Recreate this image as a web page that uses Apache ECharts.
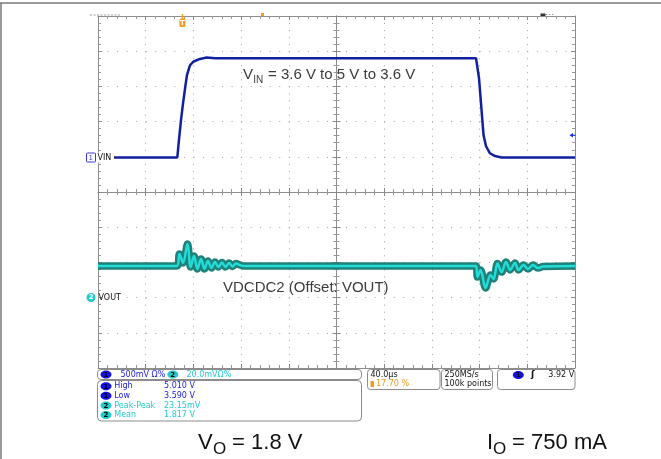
<!DOCTYPE html>
<html>
<head>
<meta charset="utf-8">
<script src="https://cdn.jsdelivr.net/npm/echarts@6/dist/echarts.min.js"></script>
<style>
  html, body { margin: 0; padding: 0; background: #fff; }
  #main { width: 661px; height: 459px; }
</style>
</head>
<body>
<div id="main"></div>
<script>
  // time axis in µs (40 µs/div, 10 div)
  var vinTime = [0, 66.5, 67.9, 69.6, 71.3, 73.4, 74.6, 77.1, 79.9, 85.5, 91.2, 98.1,
                 317.0, 319.5, 322.3, 323.3, 325.4, 328.7, 332.9, 338.5, 400];
  var vinVolt = [3.59, 3.59, 3.84, 4.12, 4.36, 4.62, 4.76, 4.90, 4.95, 4.99, 5.01, 5.00,
                 5.00, 4.72, 4.12, 3.91, 3.75, 3.65, 3.61, 3.59, 3.59];

  var voutTime = [0, 66.2, 68.3, 71.3, 75.1, 77.6, 80.5, 83.4, 86.4, 89.3, 92.2, 95.2, 98.1,
                  101.0, 104.0, 106.9, 109.9, 112.8, 115.7, 119.1, 122,
                  317.0, 318.2, 320.8, 325.0, 329.2, 331.7, 335.0, 338.4, 342.2, 345.5,
                  349.7, 352.6, 356.8, 360.6, 364.8, 369.0, 373.2, 400];
  var voutVolt = [1.818, 1.818, 1.8248, 1.8197, 1.8305, 1.8174, 1.8236, 1.8163, 1.8219, 1.8163,
                  1.8208, 1.8168, 1.8202, 1.8174, 1.8199, 1.8174, 1.8197, 1.8177, 1.8194, 1.8185, 1.818,
                  1.818, 1.8117, 1.8157, 1.8055, 1.8128, 1.8106, 1.8194, 1.8145, 1.8202, 1.8157,
                  1.8197, 1.8157, 1.8185, 1.8163, 1.8185, 1.8168, 1.8177, 1.818];

  var measName = ['High', 'Low', 'Peak-Peak', 'Mean'];
  var measValue = ['5.010 V', '3.590 V', '23.15mV', '1.817 V'];
  var measCh = [1, 1, 2, 2];
  var chScale = ['500mV \u03a9%', '20.0mV\u03a9%'];
  var timeScale = '40.0\u00b5s';
  var trigPos = 17.70;   // %
  var sampleInfo = ['250MS/s', '100k points'];
  var trigLevel = '3.92 V';

  var L = 98, T = 16, W = 477, H = 352;
  var frameColor = '#8c8c8c';
  var ch1Color = '#1a1ae0', ch2Color = '#22cccc', orange = '#f39c1e';
  var small = '8px "DejaVu Sans"';

  function pairs(a, b) {
    return a.map(function (v, i) { return [v, b[i]]; });
  }

  var tick = { show: true, inside: true, length: 4, lineStyle: { color: '#888' } };
  var minor = { show: true, splitNumber: 5, length: 3, lineStyle: { color: '#999' } };
  var line = { show: true, onZero: false, lineStyle: { color: frameColor, width: 1 } };

  function frameX(grid, pos, split) {
    return {
      gridIndex: grid, type: 'value', min: 0, max: 400, interval: 40, position: pos,
      axisLine: line, axisTick: tick, minorTick: minor, axisLabel: { show: false },
      splitLine: split ? { show: true, lineStyle: { color: '#a0a0a0', width: 1, type: [1, 6.04] } } : { show: false }
    };
  }
  function frameY(grid, pos, split) {
    return {
      gridIndex: grid, type: 'value', min: 0, max: 10, interval: 1, position: pos,
      axisLine: line, axisTick: tick, minorTick: minor, axisLabel: { show: false },
      splitLine: split ? { show: true, lineStyle: { color: '#a0a0a0', width: 1, type: [1, 8.54] } } : { show: false }
    };
  }

  var g = [];
  function txt(x, y, s, font, color, extra) {
    var o = { type: 'text', x: x, y: y, z: 100,
      style: { text: s, font: font, fill: color, align: 'left', verticalAlign: 'middle',
               textAlign: 'left', textVerticalAlign: 'middle' } };
    if (extra) for (var k in extra) o[k] = extra[k];
    return o;
  }
  function rect(x, y, w, h, r, fill, stroke) {
    return { type: 'rect', z: 99, shape: { x: x, y: y, width: w, height: h, r: r },
             style: { fill: fill, stroke: stroke, lineWidth: 1 } };
  }
  function badge(cx, cy, n) {
    g.push({ type: 'ellipse', z: 100, shape: { cx: cx, cy: cy, rx: 5.5, ry: 4 },
             style: { fill: n === 1 ? '#1212e8' : ch2Color } });
    g.push({ type: 'text', x: cx, y: cy + 0.5, z: 101,
             style: { text: String(n), font: 'bold 7px "DejaVu Sans"', fill: '#000',
                      align: 'center', verticalAlign: 'middle', textAlign: 'center', textVerticalAlign: 'middle' } });
  }

  // outer page frame
  g.push({ type: 'line', z: 100, shape: { x1: 0, y1: 3, x2: 661, y2: 3 }, style: { stroke: '#7a7a7a', lineWidth: 1.5 } });
  g.push({ type: 'line', z: 100, shape: { x1: 1, y1: 3, x2: 1, y2: 459 }, style: { stroke: '#7a7a7a', lineWidth: 1.5 } });

  // small record-view marks on top edge
  g.push({ type: 'line', z: 100, shape: { x1: 90, y1: 15, x2: 120, y2: 15 }, style: { stroke: '#9a9a9a', lineWidth: 1, lineDash: [2, 1.5] } });
  g.push(rect(261, 13, 3, 3, 0, orange, null));
  g.push(rect(540.5, 13.5, 5, 2.5, 0, '#333', null));
  g.push({ type: 'line', z: 100, shape: { x1: 546, y1: 14.5, x2: 554, y2: 14.5 }, style: { stroke: '#999', lineWidth: 1, lineDash: [1.5, 1.5] } });

  // trigger position marker
  var trigX = L + trigPos / 100 * W;
  g.push({ type: 'line', z: 100, shape: { x1: trigX, y1: 14, x2: trigX, y2: 19 }, style: { stroke: orange, lineWidth: 1.5 } });
  g.push(rect(trigX - 3, 18.5, 6, 8.5, 1.5, orange, null));
  g.push({ type: 'text', x: trigX, y: 23, z: 101,
           style: { text: 'T', font: 'bold 7px "DejaVu Sans"', fill: '#fff', align: 'center', verticalAlign: 'middle',
                    textAlign: 'center', textVerticalAlign: 'middle' } });

  // trigger level arrow on right edge
  g.push({ type: 'polygon', z: 100, shape: { points: [[569.5, 135.2], [573, 133], [573, 137.4]] }, style: { fill: '#1a2ad8' } });
  g.push({ type: 'line', z: 100, shape: { x1: 572, y1: 135.2, x2: 575.5, y2: 135.2 }, style: { stroke: '#1a2ad8', lineWidth: 1 } });

  // channel reference labels
  g.push(rect(86.5, 153, 9, 9, 1, '#fff', '#3a3ad8'));
  g.push(txt(88.5, 157.8, '1', '7px "DejaVu Sans"', '#3a3ad8'));
  g.push(rect(96.5, 152.5, 17.5, 10, 0, '#fff', null));
  g.push(txt(97.5, 157.5, 'VIN', small, '#111'));
  g.push({ type: 'ellipse', z: 100, shape: { cx: 91, cy: 297.5, rx: 4.5, ry: 4.5 }, style: { fill: ch2Color } });
  g.push(txt(89, 297.8, '2', 'bold 6.5px "DejaVu Sans"', '#fff'));
  g.push(txt(98.5, 297.5, 'VOUT', small, '#111'));

  // annotations
  var ann = '#3c3c3c';
  g.push(txt(243, 75, 'V', '15px "Liberation Sans"', ann));
  g.push(txt(253.2, 80.3, 'IN', '10px "Liberation Sans"', ann));
  g.push(txt(268, 75, '= 3.6 V to 5 V to 3.6 V', '15px "Liberation Sans"', ann));
  g.push(txt(223, 288, 'VDCDC2 (Offset: VOUT)', '15px "Liberation Sans"', ann));

  var big = '22px "Liberation Sans"', sub = '17px "Liberation Sans"';
  g.push(txt(198, 443, 'V', big, '#111'));
  g.push(txt(213, 449, 'O', sub, '#111'));
  g.push(txt(226, 443, ' = 1.8 V', big, '#111'));
  g.push(txt(487, 443, 'I', big, '#111'));
  g.push(txt(493, 449, 'O', sub, '#111'));
  g.push(txt(506, 443, ' = 750 mA', big, '#111'));

  // scope readout boxes
  g.push(rect(97.5, 369.5, 264, 10, 3.5, '#fff', frameColor));
  badge(106, 374.5, 1);
  g.push(txt(120.5, 374.7, chScale[0], small, ch1Color));
  badge(172.8, 374.5, 2);
  g.push(txt(186.5, 374.7, chScale[1], small, ch2Color));

  g.push(rect(97.5, 380.5, 264, 40.5, 4, '#fff', frameColor));
  for (var i = 0; i < measName.length; i++) {
    var y = 386.2 + i * 9.6;
    var c = measCh[i] === 1 ? ch1Color : ch2Color;
    badge(106, y, measCh[i]);
    g.push(txt(114.3, y + 0.2, measName[i], small, c));
    g.push(txt(164, y + 0.2, measValue[i], small, c));
  }

  g.push(rect(367.5, 369.5, 72.5, 20, 3, '#fff', frameColor));
  g.push(txt(370.5, 374.8, timeScale, small, '#111'));
  g.push(rect(370.5, 381, 3.5, 6, 0.5, orange, null));
  g.push(txt(376, 384.3, trigPos.toFixed(2) + ' %', small, orange));

  g.push(rect(441.5, 369.5, 51, 20, 3, '#fff', frameColor));
  g.push(txt(444.5, 374.8, sampleInfo[0], small, '#111'));
  g.push(txt(444.5, 384.3, sampleInfo[1], small, '#111'));

  g.push(rect(497.5, 369.5, 77.5, 20, 3, '#fff', frameColor));
  badge(518.3, 375, 1);
  g.push(txt(531, 375, '\u0283', 'bold 9px "DejaVu Sans"', '#111'));
  g.push(txt(548.3, 374.8, trigLevel, small, '#111'));

  var chart = echarts.init(document.getElementById('main'));
  var option = {
    animation: false,
    backgroundColor: '#fff',
    grid: [
      { left: L, top: T, width: W, height: H },
      { left: L, top: T, width: W, height: H / 2 },
      { left: L, top: T + H / 2, width: W, height: H / 2 },
      { left: L, top: T, width: W / 2, height: H },
      { left: L + W / 2, top: T, width: W / 2, height: H }
    ],
    xAxis: [
      frameX(0, 'bottom', true),
      frameX(0, 'top', false),
      frameX(1, 'bottom', false),
      frameX(2, 'top', false),
      { gridIndex: 3, type: 'value', min: 0, max: 1, show: false },
      { gridIndex: 4, type: 'value', min: 0, max: 1, show: false }
    ],
    yAxis: [
      frameY(0, 'left', true),
      frameY(0, 'right', false),
      { gridIndex: 1, type: 'value', min: 3.1, max: 5.6, show: false },
      { gridIndex: 2, type: 'value', min: 1.76, max: 1.86, show: false },
      frameY(3, 'right', false),
      frameY(4, 'left', false)
    ],
    series: [
      { name: 'VOUT band', type: 'line', xAxisIndex: 3, yAxisIndex: 3, data: pairs(voutTime, voutVolt),
        symbol: 'none', z: 3, smooth: 0.35, lineStyle: { color: '#1f8178', width: 7.5 } },
      { name: 'VOUT', type: 'line', xAxisIndex: 3, yAxisIndex: 3, data: pairs(voutTime, voutVolt),
        symbol: 'none', z: 4, smooth: 0.35, lineStyle: { color: '#22dcd8', width: 2.5 } },
      { name: 'VIN', type: 'line', xAxisIndex: 2, yAxisIndex: 2, data: pairs(vinTime, vinVolt),
        symbol: 'none', z: 5, lineStyle: { color: '#10209e', width: 2.5 } }
    ],
    graphic: g
  };
  chart.setOption(option);
</script>
</body>
</html>
